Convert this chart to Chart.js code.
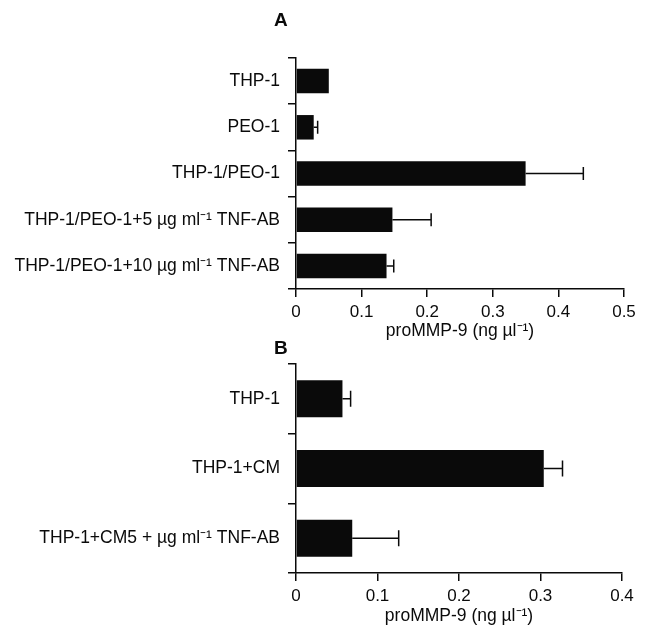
<!DOCTYPE html>
<html>
<head>
<meta charset="utf-8">
<script src="https://cdn.jsdelivr.net/npm/chart.js@4.4.1/dist/chart.umd.min.js"></script>
<style>
  html, body { margin: 0; padding: 0; background: #fff; }
  #wrap { position: relative; width: 650px; height: 625px; }
  canvas { position: absolute; left: 0; }
  #chart-a { top: 0; }
  #chart-b { top: 330px; }
</style>
</head>
<body>
<div id="wrap">
  <canvas id="chart-a" width="650" height="345"></canvas>
  <canvas id="chart-b" width="650" height="295"></canvas>
</div>
<script>
// panel A
const labelsA = ['THP-1', 'PEO-1', 'THP-1/PEO-1', 'THP-1/PEO-1+5 µg ml⁻¹ TNF-AB', 'THP-1/PEO-1+10 µg ml⁻¹ TNF-AB'];
const valuesA = [0.050, 0.027, 0.350, 0.147, 0.138];
const errorsA = [0, 0.006, 0.088, 0.059, 0.011];
const ticksA = [0, 0.1, 0.2, 0.3, 0.4, 0.5];

// panel B
const labelsB = ['THP-1', 'THP-1+CM', 'THP-1+CM5 + µg ml⁻¹ TNF-AB'];
const valuesB = [0.057, 0.304, 0.069];
const errorsB = [0.010, 0.023, 0.057];
const ticksB = [0, 0.1, 0.2, 0.3, 0.4];

const axisTitle = 'proMMP-9 (ng µl⁻¹)';
const ink = '#0a0a0a';
const family = "'Liberation Sans', Arial, Helvetica, sans-serif";

Chart.defaults.font.family = family;
Chart.defaults.font.size = 17;
Chart.defaults.color = ink;

// one-sided error bars, drawn through the chart scales
const errorBars = {
    id: 'errorBars',
    afterDatasetsDraw(chart, args, opts) {
        const ctx = chart.ctx;
        const xScale = chart.scales.x;
        const meta = chart.getDatasetMeta(0);
        const vals = chart.data.datasets[0].data;
        ctx.save();
        ctx.strokeStyle = ink;
        ctx.lineWidth = 1.5;
        meta.data.forEach((bar, i) => {
            const err = opts.errors[i];
            if (!err) return;
            const x0 = bar.x;
            const x1 = xScale.getPixelForValue(vals[i] + err);
            ctx.beginPath();
            ctx.moveTo(x0, bar.y);
            ctx.lineTo(x1, bar.y);
            ctx.moveTo(x1, bar.y - opts.cap);
            ctx.lineTo(x1, bar.y + opts.cap);
            ctx.stroke();
        });
        ctx.restore();
    }
};

// panel letter (A / B) up left of the plot
const panelLetter = {
    id: 'panelLetter',
    afterDraw(chart, args, opts) {
        const ctx = chart.ctx;
        ctx.save();
        ctx.font = 'bold 19px ' + family;
        ctx.fillStyle = ink;
        ctx.textBaseline = 'alphabetic';
        ctx.fillText(opts.text, chart.chartArea.left + opts.dx, opts.y);
        ctx.restore();
    }
};

function makeChart(id, labels, values, errors, ticks, cfg) {
    return new Chart(document.getElementById(id), {
        type: 'bar',
        data: {
            labels: labels,
            datasets: [{
                data: values,
                backgroundColor: ink,
                borderWidth: 0,
                barPercentage: 0.53,
                categoryPercentage: 1
            }]
        },
        options: {
            indexAxis: 'y',
            responsive: false,
            animation: false,
            layout: { padding: { top: cfg.top, right: cfg.right, left: 0, bottom: 0 } },
            plugins: {
                legend: { display: false },
                tooltip: { enabled: false },
                errorBars: { errors: errors, cap: cfg.cap },
                panelLetter: { text: cfg.letter, dx: -22, y: cfg.letterY }
            },
            scales: {
                x: {
                    type: 'linear',
                    min: ticks[0],
                    max: ticks[ticks.length - 1],
                    afterBuildTicks: (scale) => { scale.ticks = ticks.map(v => ({ value: v })); },
                    afterFit: (scale) => { scale.height = cfg.xHeight; },
                    ticks: { padding: 5, callback: (v) => String(v) },
                    grid: { drawOnChartArea: false, drawTicks: true, tickLength: 8, color: ink, lineWidth: 1.5 },
                    border: { display: true, color: ink, width: 1.5 },
                    title: {
                        display: true,
                        text: axisTitle,
                        font: { size: 17.5, lineHeight: 1 },
                        padding: { top: 2, bottom: cfg.titlePad }
                    }
                },
                y: {
                    afterFit: (scale) => { scale.width = cfg.yWidth; },
                    ticks: { padding: 8, font: { size: 17.5 } },
                    grid: { offset: true, drawOnChartArea: false, drawTicks: true, tickLength: 8, color: ink, lineWidth: 1.5 },
                    border: { display: true, color: ink, width: 1.5 }
                }
            }
        },
        plugins: [errorBars, panelLetter]
    });
}

makeChart('chart-a', labelsA, valuesA, errorsA, ticksA, {
    top: 58, right: 26, xHeight: 56, yWidth: 296, cap: 6.5, letter: 'A', letterY: 26, titlePad: 5
});
makeChart('chart-b', labelsB, valuesB, errorsB, ticksB, {
    top: 34, right: 28, xHeight: 52, yWidth: 296, cap: 8, letter: 'B', letterY: 24, titlePad: 0.5
});
</script>
</body>
</html>
